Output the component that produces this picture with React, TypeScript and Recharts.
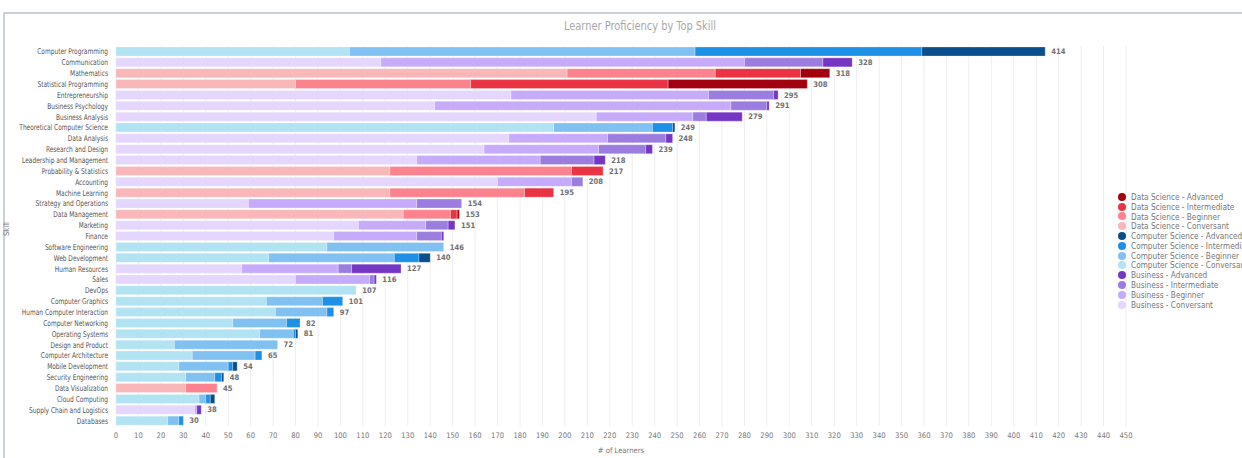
import { Bar, BarChart, CartesianGrid, LabelList, XAxis, YAxis } from "recharts";

const skills = [
  "Computer Programming", "Communication", "Mathematics", "Statistical Programming",
  "Entrepreneurship", "Business Psychology", "Business Analysis", "Theoretical Computer Science",
  "Data Analysis", "Research and Design", "Leadership and Management", "Probability & Statistics",
  "Accounting", "Machine Learning", "Strategy and Operations", "Data Management",
  "Marketing", "Finance", "Software Engineering", "Web Development",
  "Human Resources", "Sales", "DevOps", "Computer Graphics",
  "Human Computer Interaction", "Computer Networking", "Operating Systems", "Design and Product",
  "Computer Architecture", "Mobile Development", "Security Engineering", "Data Visualization",
  "Cloud Computing", "Supply Chain and Logistics", "Databases",
];

const domains = [
  "cs", "bus", "ds", "ds", "bus", "bus", "bus", "cs", "bus", "bus", "bus", "ds",
  "bus", "ds", "bus", "ds", "bus", "bus", "cs", "cs", "bus", "bus", "cs", "cs",
  "cs", "cs", "cs", "cs", "cs", "cs", "cs", "ds", "cs", "bus", "cs",
];

const conversant = [104, 118, 201, 80, 176, 142, 214, 195, 175, 164, 134, 122, 170, 122, 59, 128, 108, 97, 94, 68, 56, 80, 107, 67, 71, 52, 64, 26, 34, 28, 31, 31, 37, 35, 23];
const beginner = [154, 162, 66, 78, 88, 132, 43, 44, 44, 51, 55, 81, 33, 60, 75, 21, 30, 37, 52, 56, 43, 33, 0, 25, 23, 24, 15, 46, 28, 22, 13, 14, 3, 1, 5];
const intermediate = [101, 35, 38, 88, 29, 16, 6, 9, 26, 21, 24, 14, 5, 13, 20, 3, 10, 11, 0, 11, 6, 2, 0, 9, 3, 6, 1, 0, 3, 2, 3, 0, 2, 0, 2];
const advanced = [55, 13, 13, 62, 2, 1, 16, 1, 3, 3, 5, 0, 0, 0, 0, 1, 3, 1, 0, 5, 22, 1, 0, 0, 0, 0, 1, 0, 0, 2, 1, 0, 2, 2, 0];

// rows whose total is not printed in the reference
const hideTotal = ["Finance", "Cloud Computing"];

const xTicks = Array.from({ length: 46 }, (_, i) => i * 10);

const domainNames: Record<string, string> = {
  ds: "Data Science",
  cs: "Computer Science",
  bus: "Business",
};

const levels = ["conv", "beg", "int", "adv"];
const levelNames: Record<string, string> = {
  conv: "Conversant",
  beg: "Beginner",
  int: "Intermediate",
  adv: "Advanced",
};

const colors: Record<string, string> = {
  ds_adv: "#a3000f",
  ds_int: "#ea3443",
  ds_beg: "#fc828e",
  ds_conv: "#f9b7b9",
  cs_adv: "#0a4f8c",
  cs_int: "#1e90e6",
  cs_beg: "#80c1f1",
  cs_conv: "#b2e3f2",
  bus_adv: "#7536c4",
  bus_int: "#9b7de0",
  bus_beg: "#c6abfb",
  bus_conv: "#e4d6fd",
};

const legendOrder = ["ds", "cs", "bus"].flatMap((d) =>
  ["adv", "int", "beg", "conv"].map((l) => `${d}_${l}`)
);

const data = skills.map((skill, i) => {
  const vals = [conversant[i], beginner[i], intermediate[i], advanced[i]];
  // tiny end cap so every row keeps a rect to hang the total label on
  const row: Record<string, number | string> = { skill, cap: 0.000001 };
  ["ds", "cs", "bus"].forEach((d) => {
    levels.forEach((l, j) => {
      row[`${d}_${l}`] = domains[i] === d ? vals[j] : 0;
    });
  });
  const total = vals.reduce((a, b) => a + b, 0);
  row.totalLabel = hideTotal.includes(skill) ? "" : String(total);
  return row;
});

const font = "'DejaVu Sans Condensed', 'Liberation Sans Narrow', sans-serif";

const SkillTick = (props: any) => {
  const { x, y, payload } = props;
  return (
    <text
      transform={`translate(${x},${y}) scale(0.82,1)`}
      dy={3}
      textAnchor="end"
      fontSize={8}
      fill="#555"
      fontFamily={font}
    >
      {payload.value}
    </text>
  );
};

export default function App() {
  return (
    <div
      style={{
        position: "absolute",
        left: 0,
        top: 0,
        width: 1242,
        height: 458,
        overflow: "hidden",
        background: "#fff",
        fontFamily: font,
      }}
    >
      <div
        style={{
          position: "absolute",
          left: 3,
          top: 12,
          width: 1250,
          height: 460,
          borderTop: "2px solid #c9d1dd",
          borderLeft: "2px solid #c9d1dd",
        }}
      />
      <div
        style={{
          position: "absolute",
          top: 19,
          left: 19,
          width: 1242,
          textAlign: "center",
          fontSize: 11.5,
          color: "#a8a8a8",
          transform: "scaleX(0.95)",
        }}
      >
        Learner Proficiency by Top Skill
      </div>
      <div style={{ position: "absolute", left: 0, top: 0 }}>
        <BarChart
          width={1242}
          height={458}
          data={data}
          layout="vertical"
          margin={{ top: 46, right: 116, bottom: 0, left: 0 }}
          barSize={9}
          style={{ fontFamily: font }}
        >
          <CartesianGrid horizontal={false} stroke="#eeeeee" />
          <XAxis
            type="number"
            domain={[0, 450]}
            ticks={xTicks}
            interval={0}
            tickLine={false}
            axisLine={false}
            height={32}
            tickSize={5}
            tick={{ fontSize: 7.6, fill: "#777" }}
            label={{ value: "# of Learners", position: "insideBottom", offset: 5, fontSize: 7.6, fill: "#777" }}
          />
          <YAxis
            type="category"
            dataKey="skill"
            width={116}
            interval={0}
            tickLine={false}
            axisLine={false}
            tick={<SkillTick />}
            label={{ value: "Skill", angle: -90, position: "insideLeft", offset: 6, fontSize: 7.6, fill: "#777" }}
          />
          {["ds", "cs", "bus"].flatMap((d) =>
            levels.map((l) => (
              <Bar
                key={`${d}_${l}`}
                dataKey={`${d}_${l}`}
                stackId="a"
                fill={colors[`${d}_${l}`]}
                stroke="rgba(255,255,255,0.45)"
                strokeWidth={0.6}
                isAnimationActive={false}
              />
            ))
          )}
          <Bar dataKey="cap" stackId="a" fill="none" isAnimationActive={false}>
            <LabelList
              dataKey="totalLabel"
              position="right"
              offset={6}
              style={{ fontSize: 7.6, fontWeight: 600, fill: "#707070", fontFamily: font }}
            />
          </Bar>
        </BarChart>
      </div>
      <div style={{ position: "absolute", left: 1118, top: 192, whiteSpace: "nowrap" }}>
        {legendOrder.map((k) => {
          const [d, l] = k.split("_");
          return (
            <div key={k} style={{ display: "flex", alignItems: "center", height: 9.8, fontSize: 8.2, color: "#777" }}>
              <span
                style={{
                  display: "inline-block",
                  width: 8,
                  height: 8,
                  borderRadius: 4,
                  background: colors[k],
                  marginRight: 5,
                  flexShrink: 0,
                }}
              />
              {`${domainNames[d]} - ${levelNames[l]}`}
            </div>
          );
        })}
      </div>
    </div>
  );
}
